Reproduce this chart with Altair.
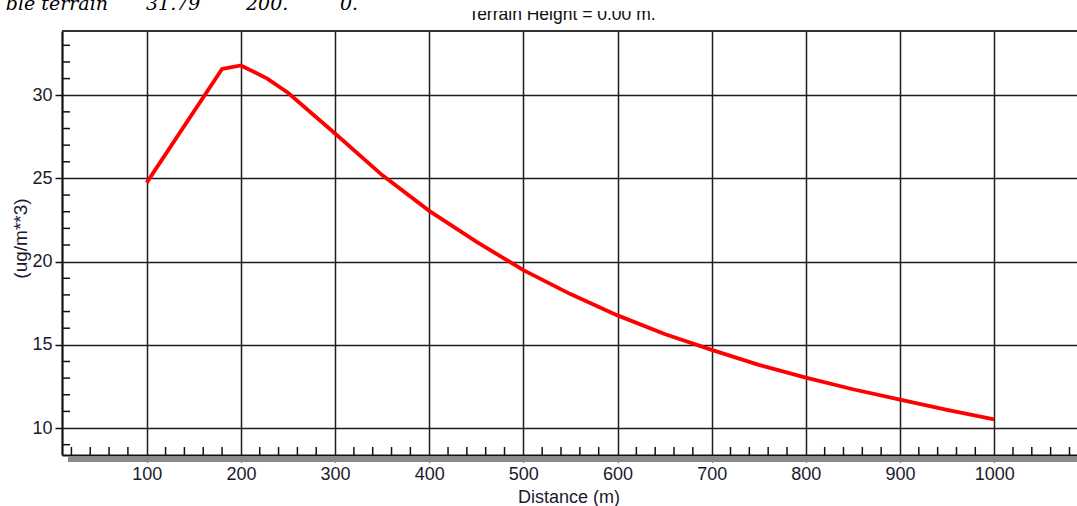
import altair as alt
import pandas as pd

# Concentration profile (ug/m**3) against downwind distance (m)
distance = [100, 180, 200, 228, 250, 300, 350, 400, 450, 500, 550, 600,
            650, 700, 750, 800, 850, 900, 950, 1000]
concentration = [24.75, 31.58, 31.79, 31.0, 30.15, 27.7, 25.2, 23.05, 21.2,
                 19.49, 18.05, 16.77, 15.65, 14.70, 13.8, 13.03, 12.33,
                 11.71, 11.09, 10.52]

x_major = [100, 200, 300, 400, 500, 600, 700, 800, 900, 1000]
x_minor = [d for d in range(20, 1081, 20) if d % 100]
y_major = [10, 15, 20, 25, 30]
y_minor = [v for v in range(9, 34) if v % 5]

header_texts = ["ble terrain", "31.79", "200.", "0."]
subtitle = "Terrain Height = 0.00 m."
x_title = "Distance (m)"
y_title = "(ug/m**3)"

# layout
W, H = 1015, 424
LEFT, TOP = 62, 31
X_DOMAIN = [10, 1088]
Y_DOMAIN = [8.38, 33.86]
INK = "#111111"
LABEL_INK = "#1a1a2e"
SANS = "Liberation Sans"
FS = 18

line_df = pd.DataFrame({"d": distance, "c": concentration})
xminor_df = pd.DataFrame({"d": x_minor})
yminor_df = pd.DataFrame({"v": y_minor})
one_row = pd.DataFrame({"k": [0]})

xs = alt.Scale(domain=X_DOMAIN, nice=False, zero=False)
ys = alt.Scale(domain=Y_DOMAIN, nice=False, zero=False)

x_axis = alt.Axis(
    values=x_major, format="d", grid=True, gridColor="#1e1e1e", gridWidth=1.5,
    domainColor=INK, domainWidth=2.2, tickColor=INK, tickSize=7, tickWidth=1.5,
    labelFont=SANS, labelFontSize=FS, labelColor=LABEL_INK, labelPadding=3,
    labelFlush=False, title=x_title, titleFont=SANS, titleFontSize=FS,
    titleFontWeight="normal", titleColor=LABEL_INK, titleBaseline="middle",
    titleX=W / 2 - 1, titleY=42,
)
y_axis = alt.Axis(
    values=y_major, format="d", grid=True, gridColor="#1e1e1e", gridWidth=1.5,
    domainColor=INK, domainWidth=2.2, tickColor=INK, tickSize=7, tickWidth=1.5,
    labelFont=SANS, labelFontSize=FS, labelColor=LABEL_INK, labelPadding=3,
    labelFlush=False, title=y_title, titleFont=SANS, titleFontSize=19,
    titleFontWeight="normal", titleColor=LABEL_INK, titleAlign="center",
    titleBaseline="middle", titleX=20 - LEFT, titleY=238 - TOP, titleAngle=270,
)

# grey shadow under the bottom axis
shadow = alt.Chart(one_row).mark_rect(color="#8a8a8a").encode(
    x=alt.value(6), x2=alt.value(W), y=alt.value(H + 1), y2=alt.value(H + 7)
)

curve = alt.Chart(line_df).mark_line(color="#ff0000", strokeWidth=3.8).encode(
    x=alt.X("d:Q", scale=xs, axis=x_axis),
    y=alt.Y("c:Q", scale=ys, axis=y_axis),
)

# minor ticks pointing into the plot
xminor = alt.Chart(xminor_df).mark_rule(color=INK, strokeWidth=1.5).encode(
    x=alt.X("d:Q", scale=xs, axis=x_axis), y=alt.value(H - 8), y2=alt.value(H)
)
yminor = alt.Chart(yminor_df).mark_rule(color=INK, strokeWidth=1.5).encode(
    y=alt.Y("v:Q", scale=ys, axis=y_axis), x=alt.value(0), x2=alt.value(8)
)

top_border = alt.Chart(one_row).mark_rule(color="#333333", strokeWidth=2).encode(
    x=alt.value(0), x2=alt.value(W), y=alt.value(0)
)

sub = alt.Chart(pd.DataFrame({"t": [subtitle]})).mark_text(
    font=SANS, fontSize=17.5, align="center", baseline="alphabetic", color=INK,
).encode(text="t:N", x=alt.value(562 - LEFT), y=alt.value(20 - TOP))

# the line of document text above crops the subtitle's upper part
mask = alt.Chart(one_row).mark_rect(color="white").encode(
    x=alt.value(400 - LEFT), x2=alt.value(720 - LEFT),
    y=alt.value(-TOP), y2=alt.value(11 - TOP),
)

header_pos = [(108, "right"), (146, "left"), (246, "left"), (340, "left")]
header_layers = []
for txt, (px, al) in zip(header_texts, header_pos):
    header_layers.append(
        alt.Chart(pd.DataFrame({"t": [txt]})).mark_text(
            font="DejaVu Serif", fontStyle="italic", fontSize=19,
            align=al, baseline="alphabetic", color="#000000",
        ).encode(text="t:N", x=alt.value(px - LEFT), y=alt.value(10 - TOP))
    )

chart = alt.layer(
    shadow, curve, xminor, yminor, top_border, sub, mask, *header_layers
).properties(
    width=W, height=H,
    autosize=alt.AutoSizeParams(type="none"),
    padding={"left": LEFT, "top": TOP, "right": 0, "bottom": 506 - TOP - H},
).configure(background="white").configure_view(stroke=None)

chart.save("out.html", embed_options={"renderer": "svg", "actions": False})
